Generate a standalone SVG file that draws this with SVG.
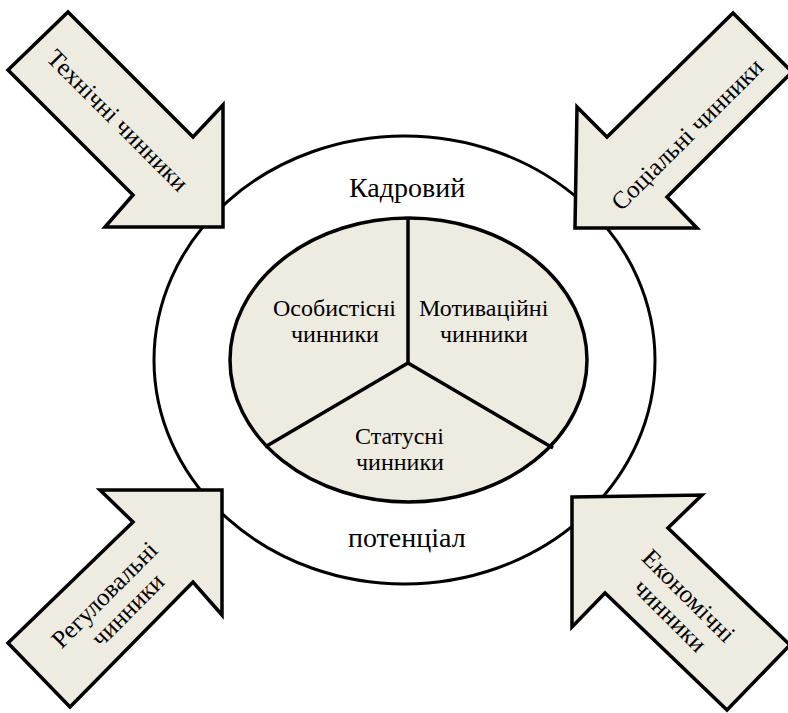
<svg xmlns="http://www.w3.org/2000/svg" width="788" height="713" viewBox="0 0 788 713">
<style>
.shape{fill:#EEECE1;stroke:#000;stroke-width:3.5;stroke-linejoin:miter}
.line{fill:none;stroke:#000;stroke-width:3.5}
</style>
<rect width="788" height="713" fill="#fff"/>
<g id="outer">
<ellipse cx="404.5" cy="360" rx="250.5" ry="224" fill="#fff" stroke="#000" stroke-width="3"/>
<text font-family="Liberation Serif" font-size="28" x="349" y="197">Кадровий</text>
<text font-family="Liberation Serif" font-size="28" x="348" y="547">потенціал</text>
</g>
<g id="inner">
<ellipse class="shape" cx="408.5" cy="360" rx="178.5" ry="142"/>
</g>
<g id="connectors">
<path class="line" d="M408 218 L408 363 M408 363 L265 447 M408 363 L553 448"/>
</g>
<g id="osobystisni">
<text font-family="Liberation Serif" font-size="24" x="273" y="316">Особистісні</text>
<text font-family="Liberation Serif" font-size="24" x="291" y="342">чинники</text>
</g>
<g id="motyvatsiini">
<text font-family="Liberation Serif" font-size="24" x="419" y="316">Мотиваційні</text>
<text font-family="Liberation Serif" font-size="24" x="440" y="342">чинники</text>
</g>
<g id="statusni">
<text font-family="Liberation Serif" font-size="24" x="355" y="444">Статусні</text>
<text font-family="Liberation Serif" font-size="24" x="356" y="470">чинники</text>
</g>
<g id="tekhnichni">
<path class="shape" d="M68 12 L193 137 L223 105 L223 227 L105 227 L133 195 L8 70 Z"/>
<text font-family="Liberation Serif" font-size="25" transform="translate(118 121) rotate(45)" x="-95" y="8">Технічні чинники</text>
</g>
<g id="sotsialni">
<path class="shape" d="M733 13 L607 137 L577 107 L575 228 L697 228 L667 197 L792 72 Z"/>
<text font-family="Liberation Serif" font-size="25" transform="translate(687 135) rotate(-45)" x="-101" y="8">Соціальні чинники</text>
</g>
<g id="rehuliuvalni">
<path class="shape" d="M8 643 L133 522 L100 490 L222 490 L222 615 L193 582 L70 707 Z"/>
<text font-family="Liberation Serif" font-size="25" transform="translate(118 600) rotate(-45)" x="-75" y="-5">Регуловальні</text>
<text font-family="Liberation Serif" font-size="25" transform="translate(118 600) rotate(-45)" x="-46" y="22">чинники</text>
</g>
<g id="ekonomichni">
<path class="shape" d="M572 497 L702 495 L668 528 L790 645 L727 710 L605 593 L572 627 Z"/>
<text font-family="Liberation Serif" font-size="25" transform="translate(680 606) rotate(45)" x="-61" y="-5">Економічні</text>
<text font-family="Liberation Serif" font-size="25" transform="translate(680 606) rotate(45)" x="-46" y="22">чинники</text>
</g>
</svg>
